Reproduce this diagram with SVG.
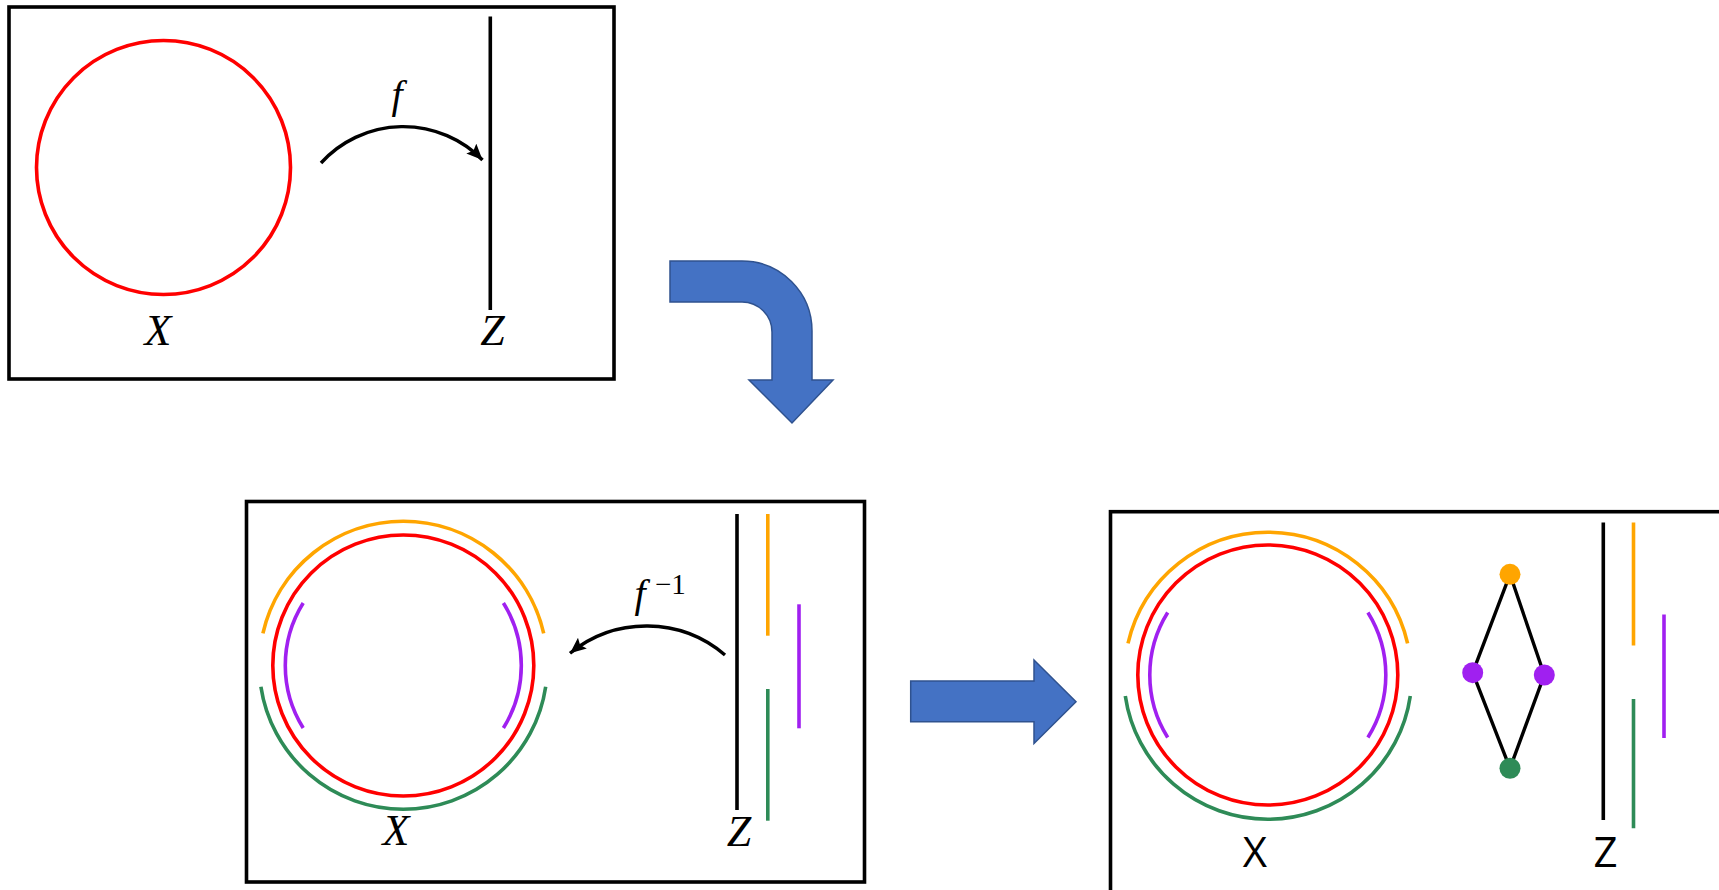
<svg xmlns="http://www.w3.org/2000/svg" width="1719" height="890" viewBox="0 0 1719 890">
<style>
.box{fill:#fff;stroke:#000;stroke-width:3.6}
.ln{fill:none;stroke-width:3.6;stroke-linecap:butt}
.red{stroke:#ff0000}
.org{stroke:#ffa500}
.grn{stroke:#2e8b57}
.pur{stroke:#a020f0}
.blk{stroke:#000}
.math{font-family:"Liberation Serif","DejaVu Serif",serif;font-style:italic;font-size:44px;fill:#000;text-anchor:middle}
.sans{font-family:"Open Sans","Liberation Sans",sans-serif;font-size:42px;fill:#000;text-anchor:middle}
.blue{fill:#4472c4;stroke:#2f528f;stroke-width:1.5}
.map{fill:none;stroke:#000;stroke-width:3.4}
</style>
<defs>
<marker id="ah" markerUnits="userSpaceOnUse" markerWidth="18" markerHeight="14" refX="16" refY="7" orient="auto">
<path d="M0,0 L16,7 L0,14 L3,7 Z" fill="#000"/>
</marker>
</defs>
<rect width="1719" height="890" fill="#fff"/>

<g id="box1">
<rect class="box" x="9" y="7" width="605" height="372"/>
<circle class="ln red" cx="163.5" cy="167.5" r="127"/>
<line class="ln blk" x1="490.3" y1="16.5" x2="490.3" y2="310"/>
<text class="math" x="158" y="345">X</text>
<text class="math" x="492.5" y="345">Z</text>
</g>

<g id="box2">
<rect class="box" x="246.5" y="501.5" width="618" height="380.5"/>
<circle class="ln red" cx="403.3" cy="665.5" r="130.5"/>
<path class="ln org" d="M262.9,633.3 A144,144 0 0 1 543.7,633.3"/>
<path class="ln grn" d="M260.9,686.7 A144,144 0 0 0 545.7,686.7"/>
<path class="ln pur" d="M303.2,603 A118,118 0 0 0 303.2,728"/>
<path class="ln pur" d="M503.4,603 A118,118 0 0 1 503.4,728"/>
<line class="ln blk" x1="737" y1="514" x2="737" y2="810"/>
<line class="ln org" x1="767.8" y1="514" x2="767.8" y2="635.7"/>
<line class="ln grn" x1="767.8" y1="689" x2="767.8" y2="820.7"/>
<line class="ln pur" x1="799" y1="604.3" x2="799" y2="728.3"/>
<text class="math" x="396" y="845">X</text>
<text class="math" x="739" y="846">Z</text>
</g>

<g id="box3">
<rect class="box" x="1110.5" y="511.7" width="640" height="420"/>
<circle class="ln red" cx="1267.8" cy="675" r="130"/>
<path class="ln org" d="M1128,643.3 A143.5,143.5 0 0 1 1407.6,643.3"/>
<path class="ln grn" d="M1125.3,696 A144,144 0 0 0 1410.3,696"/>
<path class="ln pur" d="M1167.7,612.5 A118,118 0 0 0 1167.7,737.5"/>
<path class="ln pur" d="M1367.9,612.5 A118,118 0 0 1 1367.9,737.5"/>
<line class="ln blk" x1="1603.3" y1="522.5" x2="1603.3" y2="820"/>
<line class="ln org" x1="1633.5" y1="522.5" x2="1633.5" y2="645.5"/>
<line class="ln grn" x1="1633.5" y1="699" x2="1633.5" y2="828.3"/>
<line class="ln pur" x1="1664" y1="614.5" x2="1664" y2="738"/>
<text class="sans" x="1255" y="866.7">X</text>
<text class="sans" x="1605.5" y="866.7">Z</text>
</g>

<g id="lattice">
<path d="M1510,574.3 L1472.7,672.7 L1510,768.3 L1544.3,675 Z" fill="none" stroke="#000" stroke-width="3.4" stroke-linejoin="round"/>
<circle id="n-top" cx="1510" cy="574.3" r="10.5" fill="#ffa500"/>
<circle id="n-left" cx="1472.7" cy="672.7" r="10.5" fill="#a020f0"/>
<circle id="n-right" cx="1544.3" cy="675" r="10.5" fill="#a020f0"/>
<circle id="n-bottom" cx="1510" cy="768.3" r="10.5" fill="#2e8b57"/>
</g>

<g id="connectors">
<path class="map" d="M321,163 A111,111 0 0 1 482.5,160" marker-end="url(#ah)"/>
<text class="math" x="397" y="108" style="font-size:40px">f</text>
<path class="map" d="M725,655 A121,121 0 0 0 570,653.3" marker-end="url(#ah)"/>
<text class="math" x="640" y="607" style="font-size:40px">f</text>
<text x="655" y="594" style="font-family:'Liberation Serif','DejaVu Serif',serif;font-size:29px;fill:#000">−1</text>
<path class="blue" d="M670,261 H742 A70,70 0 0 1 812,331 V380 H833 L792,423 L749,380 H772 V332 A30,30 0 0 0 742,302 H670 Z"/>
<path class="blue" d="M910.7,681 H1034 V660 L1076,701.7 L1034,743.5 V721.7 H910.7 Z"/>
</g>
</svg>
